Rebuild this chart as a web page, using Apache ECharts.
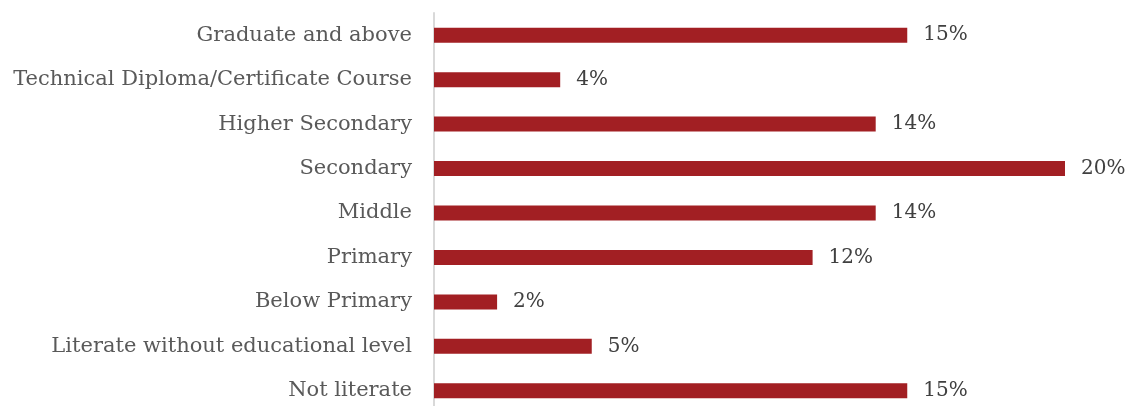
<!DOCTYPE html>
<html>
<head>
<meta charset="utf-8">
<script src="https://cdn.jsdelivr.net/npm/echarts@6/dist/echarts.min.js"></script>
<style>
  html, body { margin: 0; padding: 0; background: #fff; overflow: hidden; }
  #chart { width: 1128px; height: 414px; }
</style>
</head>
<body>
<div id="chart"></div>
<script>
// Education level distribution (listed bottom to top)
const categories = [
  'Not literate',
  'Literate without educational level',
  'Below Primary',
  'Primary',
  'Middle',
  'Secondary',
  'Higher Secondary',
  'Technical Diploma/Certificate Course',
  'Graduate and above'
];
const shares = [15, 5, 2, 12, 14, 20, 14, 4, 15];

const FONT = '"DejaVu Serif", "Liberation Serif", serif';

const chart = echarts.init(document.getElementById('chart'), null, { renderer: 'canvas' });
chart.setOption({
  animation: false,
  backgroundColor: '#ffffff',
  grid: { left: 434, top: 13, width: 631, height: 400, containLabel: false },
  xAxis: {
    type: 'value',
    min: 0,
    max: 20,
    show: false
  },
  yAxis: {
    type: 'category',
    data: categories,
    axisLine: { show: true, lineStyle: { color: '#d9d9d9', width: 2 } },
    axisTick: { show: false },
    axisLabel: {
      margin: 22,
      color: '#595959',
      fontFamily: FONT,
      fontSize: 21
    }
  },
  series: [{
    type: 'bar',
    data: shares,
    barWidth: 15,
    itemStyle: { color: '#a21f23' },
    label: {
      show: true,
      position: 'right',
      distance: 16,
      color: '#404040',
      fontFamily: FONT,
      fontSize: 20,
      formatter: p => p.value + '%'
    }
  }]
});
</script>
</body>
</html>
